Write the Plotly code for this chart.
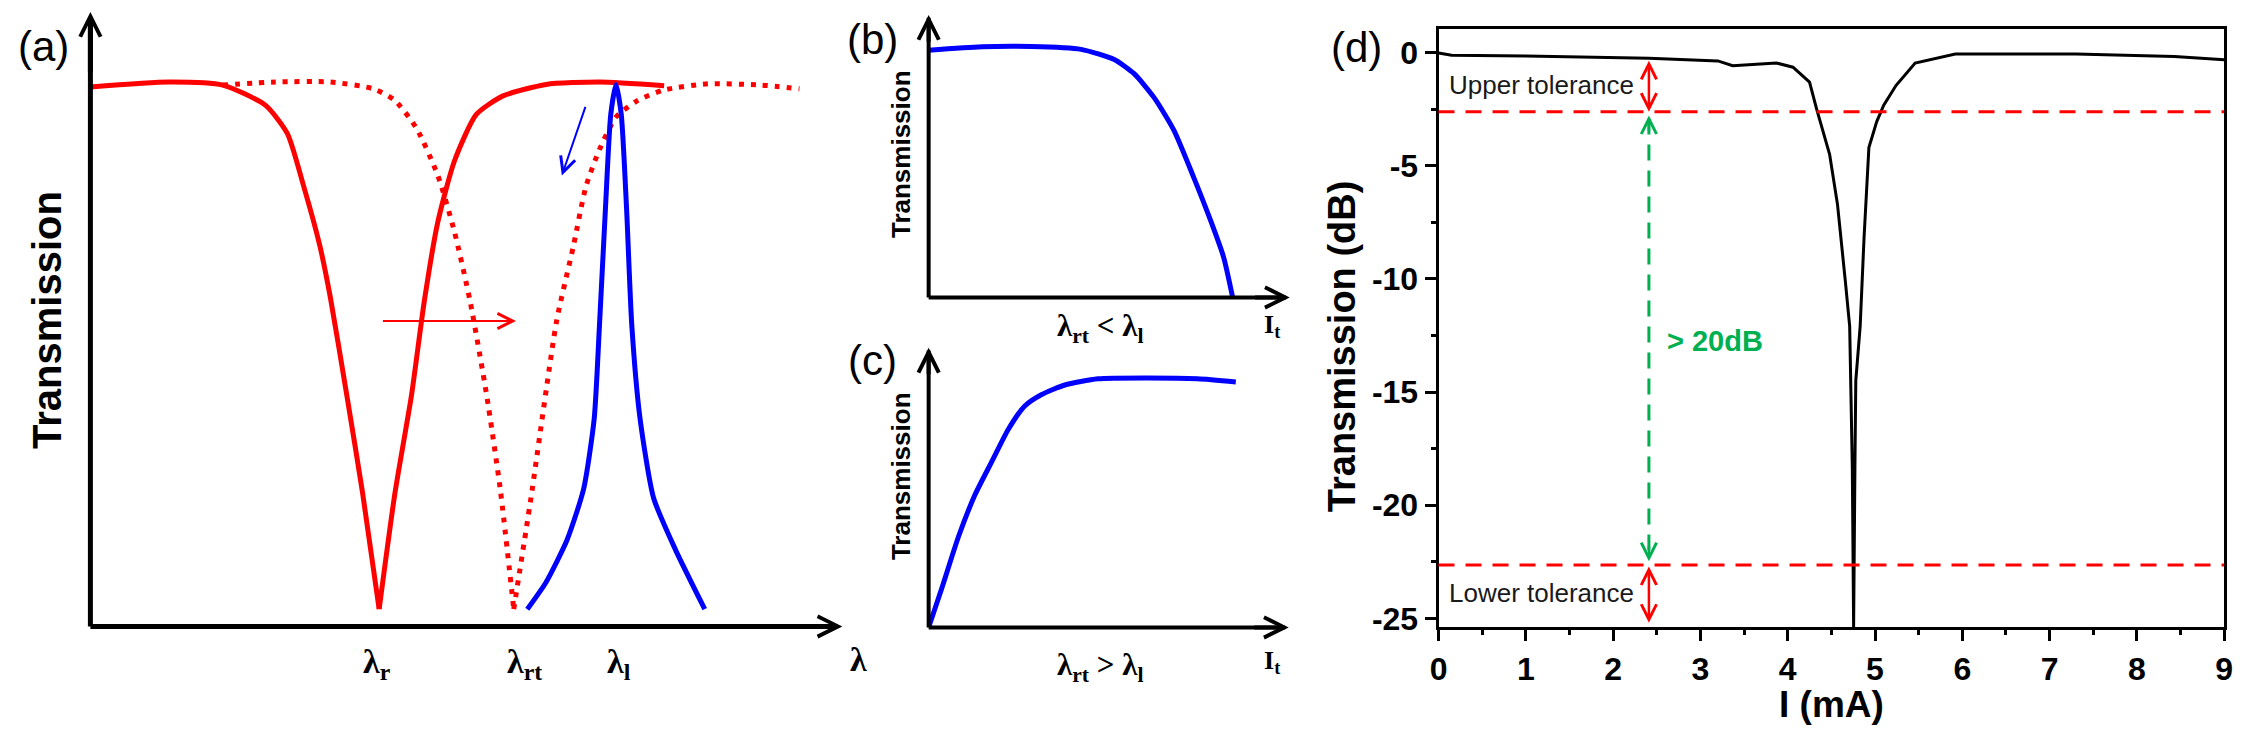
import plotly.graph_objects as go

W, H = 2248, 741
OFF = 8  # the page body adds an 8px margin, so positions are measured on the page and shifted back
SANS = "Liberation Sans"
SERIF = "Liberation Serif"
RED = "#ff0000"
BLUE = "#0000ff"
GREEN = "#00b050"

# ---- panel (a): schematic spectra, both axes in arbitrary units 0-100 ----
a_solid_left_x = [0, 10.4, 17.6, 23.3, 26.2, 28.3, 30.5, 31.9, 34.1, 36.2, 38.4]
a_solid_left_y = [87.8, 88.6, 88.1, 84.8, 80.2, 71.9, 62.0, 53.6, 37.6, 21.7, 2.8]
a_solid_right_x = [38.4, 40.5, 42.7, 44.4, 46.2, 48.4, 51.3, 54.8, 60.6, 67.7, 76.3]
a_solid_right_y = [2.8, 21.7, 37.6, 52.9, 65.8, 75.7, 83.3, 86.3, 88.2, 88.6, 88.0]
a_dot_left_x = [17.6, 24.7, 31.9, 37.6, 40.5, 43.4, 46.2, 48.4, 50.5, 52.7, 54.5, 56.3]
a_dot_left_y = [88.1, 88.6, 88.6, 87.5, 85.6, 81.0, 73.4, 64.3, 52.9, 37.6, 22.4, 2.8]
a_dot_right_x = [56.3, 58.6, 62.0, 64.2, 65.9, 67.7, 69.9, 72.8, 76.3, 82.1, 89.2, 94.3]
a_dot_right_y = [2.8, 21.0, 49.7, 61.7, 71.6, 77.6, 82.9, 85.6, 87.3, 88.3, 88.1, 87.5]
a_blue_x = [58.1, 60.6, 63.4, 65.6, 67.0, 67.7, 68.5, 69.2, 69.9, 70.6, 71.3, 72.0, 73.1, 74.9, 77.8, 81.7]
a_blue_y = [2.8, 7.2, 14.1, 22.4, 33.8, 49.0, 68.1, 83.3, 88.2, 83.3, 68.1, 49.0, 33.8, 20.9, 12.5, 2.8]

# ---- panels (b) and (c): transmission vs tuning current ----
b_x = [0, 14.7, 28.4, 42.2, 51.4, 56.9, 62.4, 67.9, 73.4, 78.0, 81.7, 84.2]
b_y = [87.5, 88.7, 88.8, 87.8, 84.2, 79.2, 70.8, 59.2, 42.5, 27.5, 14.2, 0]
c_x = [0, 3.7, 8.3, 12.9, 17.5, 22.1, 26.7, 31.4, 37.8, 47.0, 60.8, 74.7, 85.3]
c_y = [0, 14.2, 32.5, 47.5, 59.2, 70.8, 79.2, 83.3, 86.7, 88.9, 89.2, 88.9, 87.8]

# ---- panel (d): measured transmission (dB) vs current (mA) ----
d_current = [0, 0.15, 1.0, 2.0, 2.41, 3.2, 3.32, 3.37, 3.87, 4.06, 4.25, 4.33, 4.48, 4.57,
             4.66, 4.71, 4.74, 4.755, 4.77, 4.78, 4.83, 4.875, 4.93, 4.99, 5.02, 5.10,
             5.24, 5.46, 5.92, 7.3, 8.43, 9.0]
d_trans = [-0.02, -0.12, -0.15, -0.22, -0.25, -0.37, -0.51, -0.58, -0.46, -0.65, -1.31, -2.48,
           -4.5, -6.7, -10.1, -12.1, -18.3, -25.4, -18.3, -14.5, -12.1, -8.15, -4.2, -3.35,
           -3.05, -2.33, -1.46, -0.47, -0.07, -0.07, -0.18, -0.32]
d_yticks = [0, -5, -10, -15, -20, -25]
d_yticktext = ["0", "-5", "-10", "-15", "-20", "-25"]
upper_tol = -2.62
lower_tol = -22.64
marker_x = 2.41
curve_at_marker = -0.3
d_floor = -25.2


def px(x, y):
    return (x - OFF) / W, 1 - (y - OFF) / H


def xdom(x0, x1):
    return [(x0 - OFF) / W, (x1 - OFF) / W]


def ydom(ytop, ybot):
    return [1 - (ybot - OFF) / H, 1 - (ytop - OFF) / H]


fig = go.Figure()

line_kw = dict(shape="spline", smoothing=0.6)
for xs, ys, dash, color in [
    (a_solid_left_x, a_solid_left_y, "solid", RED),
    (a_solid_right_x, a_solid_right_y, "solid", RED),
    (a_dot_left_x, a_dot_left_y, "5px,7px", RED),
    (a_dot_right_x, a_dot_right_y, "5px,7px", RED),
    (a_blue_x, a_blue_y, "solid", BLUE),
]:
    fig.add_trace(go.Scatter(x=xs, y=ys, mode="lines", xaxis="x", yaxis="y",
                             line=dict(color=color, width=5, dash=dash, **line_kw),
                             hoverinfo="skip", showlegend=False))

fig.add_trace(go.Scatter(x=b_x, y=b_y, mode="lines", xaxis="x2", yaxis="y2",
                         line=dict(color=BLUE, width=5, **line_kw), showlegend=False))
fig.add_trace(go.Scatter(x=c_x, y=c_y, mode="lines", xaxis="x3", yaxis="y3",
                         line=dict(color=BLUE, width=5, **line_kw), showlegend=False))
fig.add_trace(go.Scatter(x=d_current, y=d_trans, mode="lines", xaxis="x4", yaxis="y4",
                         line=dict(color="black", width=3), showlegend=False))

hidden = dict(visible=False, range=[0, 100], fixedrange=True)
fig.update_layout(
    width=W, height=H,
    margin=dict(l=0, r=0, t=0, b=0),
    paper_bgcolor="white", plot_bgcolor="white",
    showlegend=False,
    xaxis=dict(domain=xdom(82, 840), anchor="y", **hidden),
    yaxis=dict(domain=ydom(12, 634), anchor="x", **hidden),
    xaxis2=dict(domain=xdom(927, 1291), anchor="y2", **hidden),
    yaxis2=dict(domain=ydom(15, 301), anchor="x2", **hidden),
    xaxis3=dict(domain=xdom(927, 1290), anchor="y3", **hidden),
    yaxis3=dict(domain=ydom(352, 635), anchor="x3", **hidden),
)

tickfont = dict(family=SANS, size=32, color="black", weight="bold")
common = dict(ticks="outside", ticklen=11, tickwidth=2.5, tickcolor="black",
              showline=True, linewidth=3, linecolor="black", mirror=True,
              showgrid=False, zeroline=False, tickfont=tickfont)
fig.update_layout(
    xaxis4=dict(domain=xdom(1441, 2233), anchor="y4", range=[0, 9],
                tickmode="linear", tick0=0, dtick=1,
                minor=dict(ticks="outside", ticklen=5, tickwidth=2.5, tickcolor="black",
                           tick0=0, dtick=0.5),
                **common),
    yaxis4=dict(domain=ydom(29, 635), anchor="x4", range=[-25.40, 1.05],
                tickmode="array", tickvals=d_yticks, ticktext=d_yticktext,
                minor=dict(ticks="outside", ticklen=5, tickwidth=2.5, tickcolor="black",
                           tickmode="linear", tick0=0, dtick=2.5),
                **common),
)

# arrowed axes of the schematic panels
shapes = []
ann = []
for xa, ya, w, size in [("x", "y", 5, 0.8), ("x2", "y2", 4, 1.0), ("x3", "y3", 4, 1.0)]:
    for (x0, y0, x1, y1) in [(0, 0, 1, 0), (0, 0, 0, 1)]:
        shapes.append(dict(type="line", xref=f"{xa} domain", yref=f"{ya} domain",
                           x0=x0, y0=y0, x1=x1 - 0.01 * (x1 - x0), y1=y1 - 0.01 * (y1 - y0),
                           line=dict(color="black", width=w)))
        ann.append(dict(xref=f"{xa} domain", yref=f"{ya} domain",
                        axref=f"{xa} domain", ayref=f"{ya} domain",
                        x=x1, y=y1, ax=x0 + 0.9 * (x1 - x0), ay=y0 + 0.9 * (y1 - y0),
                        text="", showarrow=True, arrowhead=5, arrowsize=size,
                        arrowwidth=w, arrowcolor="black"))

# tolerance lines and marker in (d)
for tol in (upper_tol, lower_tol):
    shapes.append(dict(type="line", xref="x4 domain", yref="y4", x0=0, x1=1, y0=tol, y1=tol,
                       line=dict(color=RED, width=3, dash="16px,11px")))
shapes.append(dict(type="line", xref="x4", yref="y4", x0=marker_x, x1=marker_x,
                   y0=upper_tol - 0.3, y1=lower_tol + 0.3,
                   line=dict(color=GREEN, width=3, dash="16px,10px")))
fig.update_layout(shapes=shapes)

# arrows in (a)
ann.append(dict(xref="x", yref="y", axref="x", ayref="y", x=56.6, y=49.7, ax=38.7, ay=49.7,
                text="", showarrow=True, arrowhead=5, arrowsize=1.5, arrowwidth=2,
                arrowcolor=RED))
ann.append(dict(xref="x", yref="y", axref="x", ayref="y", x=62.7, y=73.4, ax=65.9, ay=84.8,
                text="", showarrow=True, arrowhead=5, arrowsize=1.5, arrowwidth=2,
                arrowcolor=BLUE))

# double arrows in (d)
for top, bot in [(curve_at_marker, upper_tol), (lower_tol, d_floor)]:
    ann.append(dict(xref="x4", yref="y4", axref="x4", ayref="y4",
                    x=marker_x, y=bot, ax=marker_x, ay=top, text="", showarrow=True,
                    arrowhead=5, startarrowhead=5, arrowside="end+start",
                    arrowsize=1.2, startarrowsize=1.2, arrowwidth=2.5, arrowcolor=RED))
for tip, tail in [(upper_tol - 0.16, upper_tol - 0.9), (lower_tol + 0.16, lower_tol + 0.9)]:
    ann.append(dict(xref="x4", yref="y4", axref="x4", ayref="y4",
                    x=marker_x, y=tip, ax=marker_x, ay=tail, text="", showarrow=True,
                    arrowhead=5, arrowsize=1.2, arrowwidth=2.5, arrowcolor=GREEN))


def label(x, y, text, size, family=SANS, bold=False, color="black", angle=0):
    px_, py_ = px(x, y)
    ann.append(dict(xref="paper", yref="paper", x=px_, y=py_, text=text, showarrow=False,
                    xanchor="center", yanchor="middle", textangle=angle,
                    font=dict(family=family, size=size, color=color,
                              weight="bold" if bold else "normal")))


label(35, 47, "(a)", 42)
label(870, 40, "(b)", 42)
label(870, 365, "(c)", 42)
label(1358, 48, "(d)", 42)

label(38, 324, "Transmission", 40, bold=True, angle=-90)
label(899, 156, "Transmission", 26, bold=True, angle=-90)
label(899, 482, "Transmission", 26, bold=True, angle=-90)

label(371, 672, "λ<sub>r</sub>", 34, SERIF, True)
label(520, 672, "λ<sub>rt</sub>", 34, SERIF, True)
label(615, 672, "λ<sub>l</sub>", 34, SERIF, True)
label(856, 668, "λ", 34, SERIF, True)

label(1100, 332, "λ<sub>rt</sub> &lt; λ<sub>l</sub>", 31, SERIF, True)
label(1273, 330, "I<sub>t</sub>", 26, SERIF, True)
label(1100, 675, "λ<sub>rt</sub> &gt; λ<sub>l</sub>", 31, SERIF, True)
label(1273, 670, "I<sub>t</sub>", 26, SERIF, True)

label(1837, 713, "I (mA)", 37, bold=True)
label(1344, 350, "Transmission (dB)", 38, bold=True, angle=-90)

for yv, txt in [(-1.43, "Upper tolerance"), (-23.87, "Lower tolerance")]:
    ann.append(dict(xref="x4", yref="y4", x=1.18, y=yv, text=txt, showarrow=False,
                    font=dict(family=SANS, size=26, color="#1a1a1a")))
ann.append(dict(xref="x4", yref="y4", x=3.17, y=-12.74, text="&gt; 20dB", showarrow=False,
                font=dict(family=SANS, size=29, color=GREEN, weight="bold")))

fig.update_layout(annotations=ann)
fig.write_html("out.html")
